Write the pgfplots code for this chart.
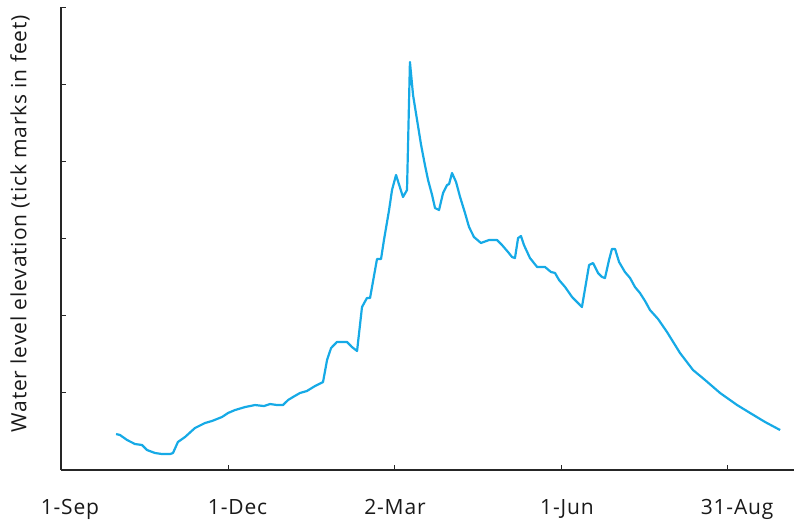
\documentclass[border=0pt]{standalone}
\usepackage{fontspec}
\setmainfont{Open Sans}[LetterSpace=4]
\usepackage{pgfplots}
\pgfplotsset{compat=1.18}
\definecolor{wl}{RGB}{22,170,230}
\newcommand{\lblfont}{\fontsize{21}{25}\selectfont}
\begin{document}
\begin{tikzpicture}[x=1pt,y=1pt]
\useasboundingbox (0,0) rectangle (794,523);
\begin{axis}[at={(61pt,53pt)}, anchor=south west, scale only axis,
  width=733pt, height=463pt,
  xmin=0, xmax=400.6, ymin=0, ymax=6,
  axis lines*=left,
  axis line style={black!85, line width=1.1pt, -},
  tick align=inside, major tick length=5pt,
  tick style={black!85, line width=1pt},
  ytick={0,1,2,3,4,5,6}, yticklabels={},
  xtick={0,91.3,182,273.3,364}, xticklabels={},
  extra x ticks={4.9,96.5,182.5,276.5,369.5},
  extra x tick labels={1-Sep,1-Dec,2-Mar,1-Jun,31-Aug},
  extra x tick style={major tick length=0pt, tick style={draw=none}},
  xticklabel style={anchor=base, yshift=-44pt, text=black!90, font=\lblfont},
  ylabel={Water level elevation (tick marks in feet)},
  ylabel style={at={(axis description cs:-0.056,0.532)}, anchor=center, text=black!90, font=\lblfont},
  clip=false,
]
\addplot[wl, line width=2.2pt, line join=round] coordinates {
(30.1,0.466) (32.2,0.454) (36.1,0.389) (40.4,0.337) (44.3,0.324) (47.0,0.259)
(51.4,0.220) (55.2,0.207) (59.6,0.207) (61.2,0.220) (63.9,0.363) (67.8,0.428)
(73.2,0.544) (78.7,0.609) (82.5,0.635) (88.0,0.687) (91.3,0.739) (95.1,0.777)
(100.6,0.816) (106.0,0.842) (110.9,0.829) (114.2,0.855) (118.1,0.842) (121.3,0.842)
(124.1,0.907) (126.8,0.946) (130.6,0.998) (134.4,1.024) (138.8,1.088) (143.2,1.140)
(145.4,1.425) (147.6,1.581) (150.8,1.659) (156.3,1.659) (159.0,1.594) (161.8,1.542)
(164.5,2.112) (167.2,2.229) (168.9,2.229) (172.7,2.734) (174.9,2.734) (176.5,2.980)
(179.3,3.369) (180.9,3.628) (183.1,3.823) (186.9,3.538) (189.1,3.628) (190.7,5.287)
(192.4,4.859) (194.6,4.535) (196.8,4.211) (198.9,3.952) (200.6,3.758) (202.8,3.564)
(204.4,3.395) (206.6,3.369) (208.8,3.589) (211.0,3.693) (212.1,3.706) (213.7,3.849)
(215.9,3.732) (218.1,3.538) (220.8,3.330) (223.0,3.149) (225.7,3.019) (229.5,2.942)
(233.9,2.980) (238.3,2.980) (241.0,2.916) (244.3,2.825) (246.5,2.760) (248.1,2.747)
(249.8,3.006) (251.4,3.032) (253.0,2.916) (256.3,2.747) (260.2,2.631) (264.5,2.631)
(267.8,2.566) (270.0,2.553) (272.2,2.462) (275.5,2.371) (279.3,2.242) (282.0,2.177)
(284.7,2.112) (288.6,2.656) (290.8,2.682) (293.5,2.553) (295.7,2.501) (297.3,2.488)
(299.5,2.721) (301.1,2.864) (302.8,2.864) (305.0,2.695) (308.2,2.566) (311.0,2.488)
(313.7,2.371) (316.4,2.294) (319.2,2.190) (321.9,2.073) (326.3,1.957) (331.2,1.788)
(338.3,1.516) (345.4,1.296) (352.0,1.166) (360.2,0.998) (369.5,0.842) (376.6,0.739)
(384.8,0.622) (393.0,0.518)
};
\end{axis}
\end{tikzpicture}
\end{document}
